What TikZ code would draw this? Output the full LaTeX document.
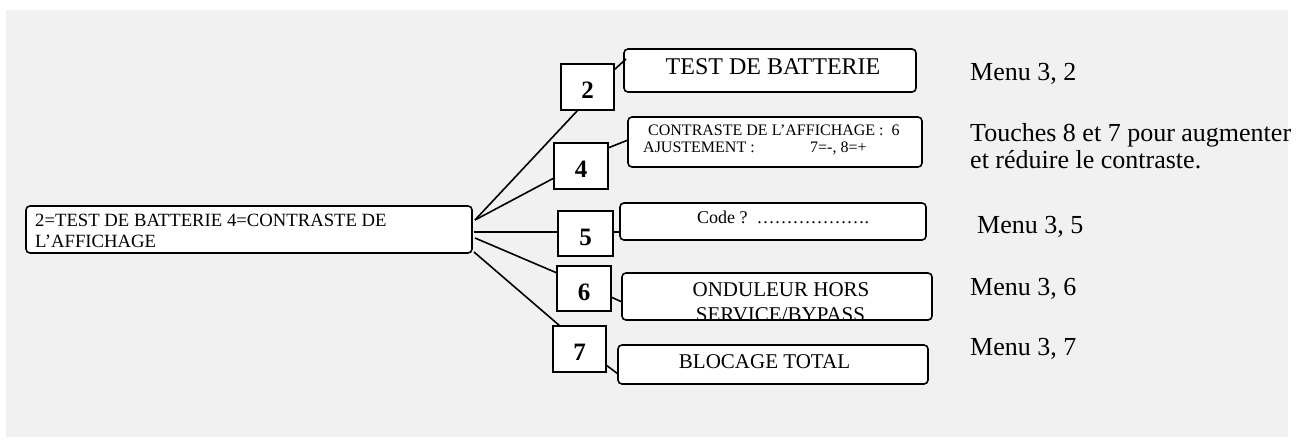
\documentclass[tikz,border=0pt]{standalone}
\usepackage{fontspec}
\setmainfont{Liberation Serif}
\usetikzlibrary{calc}
\definecolor{bggray}{HTML}{F1F1F1}
\tikzset{
  rbox/.style={draw=black, fill=white, line width=1.6pt, rounded corners=4pt, inner sep=0pt, outer sep=0pt, anchor=north west},
  numbox/.style={draw=black, fill=white, line width=2.1pt, inner sep=0pt, outer sep=0pt, anchor=north west},
  numtxt/.style={font=\fontsize{25}{25}\selectfont\bfseries, anchor=base, inner sep=0pt},
  conn/.style={line width=1.6pt, draw=black},
  txtw/.style={inner sep=0pt, anchor=base west},
  txtc/.style={inner sep=0pt, anchor=base},
  fmain/.style={font=\fontsize{18.7}{21}\selectfont},
  fside/.style={font=\fontsize{26}{28}\selectfont},
}
\begin{document}
\begin{tikzpicture}[x=1pt, y=-1pt]
\useasboundingbox (0,0) rectangle (1303,439);
\fill[bggray] (6,10) rectangle (1288,437);

% main box
\node[rbox, minimum width=446pt, minimum height=47pt] (main) at (26,206) {};
\node[txtw, fmain] (mt1) at (35,226) {2=TEST DE BATTERIE 4=CONTRASTE DE};
\node[txtw, fmain] (mt2) at (35,247) {L’AFFICHAGE};

% number boxes
\node[numbox, minimum width=53pt, minimum height=46pt] (b2) at (561,64) {};
\node[numbox, minimum width=54pt, minimum height=46pt] (b4) at (554,143) {};
\node[numbox, minimum width=55pt, minimum height=45pt] (b5) at (558,211) {};
\node[numbox, minimum width=54pt, minimum height=45pt] (b6) at (557,266) {};
\node[numbox, minimum width=53pt, minimum height=46pt] (b7) at (553,326) {};
\node[numtxt] (n2) at (587.5,98.5) {2};
\node[numtxt] (n4) at (581,177.5) {4};
\node[numtxt] (n5) at (585.5,245) {5};
\node[numtxt] (n6) at (584,300.5) {6};
\node[numtxt] (n7) at (579.5,360.5) {7};

% option boxes
\node[rbox, minimum width=292pt, minimum height=43pt] (t2) at (624,49) {};
\node[rbox, minimum width=294pt, minimum height=50pt] (t4) at (628,117) {};
\node[rbox, minimum width=306pt, minimum height=37pt] (t5) at (620,203) {};
\node[rbox, minimum width=310pt, minimum height=47pt] (t6) at (622,273) {};
\node[rbox, minimum width=310pt, minimum height=39pt] (t7) at (618,345) {};

\node[txtc, font=\fontsize{24}{26}\selectfont] (tt2) at (773,74) {TEST DE BATTERIE};
\node[txtw, font=\fontsize{16}{17}\selectfont] (tt4a) at (648,135) {CONTRASTE DE L’AFFICHAGE :\ \ 6};
\node[txtw, font=\fontsize{16}{17}\selectfont] (tt4b) at (643,152) {AJUSTEMENT :};
\node[txtw, font=\fontsize{16}{17}\selectfont] (tt4c) at (810,152) {7=-, 8=+};
\node[txtw, font=\fontsize{18}{20}\selectfont] (tt5) at (697,223) {Code ?\ \ ……………….};
\node[txtc, font=\fontsize{21}{23}\selectfont] (tt6a) at (781,296) {ONDULEUR HORS};
\begin{scope}
  \clip[rounded corners=4pt] (t6.north west) rectangle (t6.south east);
  \node[txtc, font=\fontsize{21}{23}\selectfont] (tt6b) at (780.5,321) {SERVICE/BYPASS};
\end{scope}
\node[txtc, font=\fontsize{21}{23}\selectfont] (tt7) at (764.5,368) {BLOCAGE TOTAL};

% connectors main -> numbers
\draw[conn] ([xshift=3pt,yshift=9.5pt]main.east) -- ([xshift=17pt]b2.south west);
\draw[conn] ([xshift=3pt,yshift=9.5pt]main.east) -- ([yshift=11pt]b4.south west);
\draw[conn] ([xshift=2pt,yshift=1.5pt]b5.west -| main.east) -- ([yshift=1.5pt]b5.west);
\draw[conn] ([xshift=3pt,yshift=-8.5pt]main.east) -- ([yshift=-7pt]b6.north west);
\draw[conn] ([xshift=2pt,yshift=-22.5pt]main.east) -- ([xshift=7pt]b7.north west);

% connectors numbers -> options
\draw[conn] ([yshift=-6pt]b2.north east) -- ([xshift=2pt,yshift=-10pt]t2.north west);
\draw[conn] ([yshift=-5pt]b4.north east) -- ([yshift=-23pt]t4.north west);
\draw[conn] ([yshift=1.5pt]b5.east) -- ([yshift=1.5pt]b5.east -| t5.west);
\draw[conn] ([yshift=-8.5pt]b6.east) -- ([yshift=-29pt]t6.north west);
\draw[conn] ([yshift=7pt]b7.south east) -- ([yshift=-29pt]t7.north west);

% side notes
\node[txtw, fside] (s2) at (970,80) {Menu 3, 2};
\node[txtw, fside] (s4a) at (970,141) {Touches 8 et 7 pour augmenter};
\node[txtw, fside] (s4b) at (970,168) {et réduire le contraste.};
\node[txtw, fside] (s5) at (977,233) {Menu 3, 5};
\node[txtw, fside] (s6) at (970,295) {Menu 3, 6};
\node[txtw, fside] (s7) at (970,355) {Menu 3, 7};
\end{tikzpicture}
\end{document}
